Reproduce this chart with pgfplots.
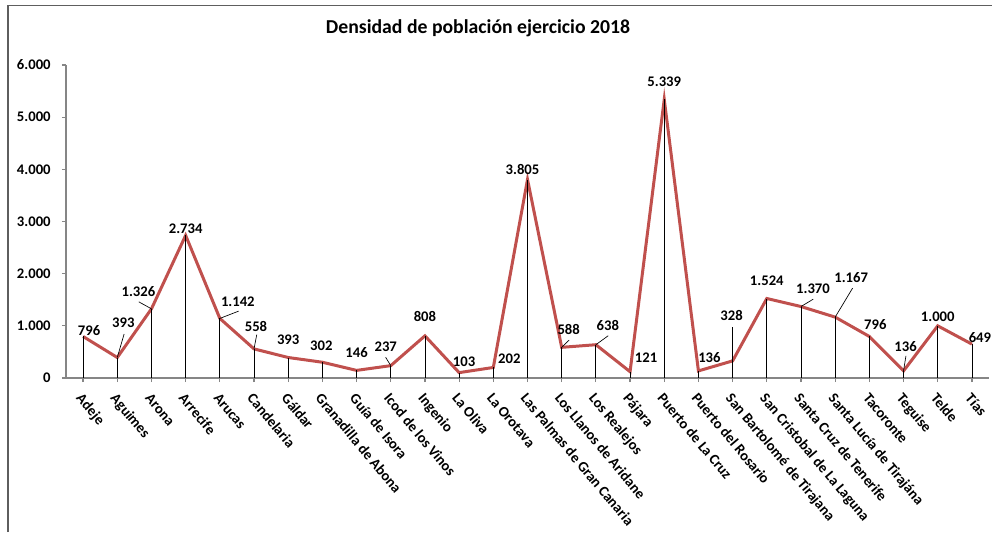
\documentclass[border=0pt]{standalone}
\usepackage{pgfplots}
\pgfplotsset{compat=1.18}
\usepackage{pgfplotstable}
\usepackage{fontspec}
\setmainfont{Carlito}
\definecolor{linered}{HTML}{C0504D}
\definecolor{axgray}{HTML}{868686}

\pgfplotstableread{
x y dx dy
0 796 4.5 4.1
1 393 4.5 25.9
2 1326 -9.75 12.75
3 2734 0 5.25
4 1142 13.5 12.75
5 558 1.5 16.5
6 393 0 13.5
7 302 -0.75 12.75
8 146 0 13.3
9 237 -3.75 14.25
10 808 0 14.25
11 103 3.75 8.25
12 202 12 6.75
13 3805 -3.75 7.5
14 588 5.25 13.5
15 638 9 14.25
16 121 12 10.5
17 5339 0 13.5
18 136 8.25 9.75
19 328 -0.75 33.75
20 1524 0 13.1
21 1370 9 13.1
22 1167 12 30
23 796 4.5 9
24 136 1.5 18
25 1000 0 6.75
26 649 6 5.25
}\datatable

\pgfplotstableread{
x y u v
1 393 0.20 450
2 1326 -0.37 134
4 1142 0.55 140
5 558 0.08 274
9 237 -0.15 160
14 588 0.22 140
15 638 0.36 172
19 328 0 658
21 1370 0.36 142
22 1167 0.51 556
24 136 0.07 288
}\leaderstable

\begin{document}
\begin{tikzpicture}
\path[use as bounding box] (0,0) rectangle (744pt,399pt);
\draw[axgray!70!black, line width=1.2pt] (6pt,0) -- (6pt,395pt) -- (744pt,395pt);
\node[font=\bfseries\fontsize{14.8}{17}\selectfont] at (358.5pt,378pt) {Densidad de población ejercicio 2018};
\begin{axis}[
  at={(49.5pt,115.5pt)}, anchor=south west, scale only axis,
  width=692.25pt, height=234.75pt,
  xmin=-0.5, xmax=26.5, ymin=0, ymax=6000,
  axis x line=bottom, axis y line=left,
  axis line style={-, axgray, line width=1.1pt},
  xtick={0,...,26},
  xticklabels={Adeje,Aguimes,Arona,Arrecife,Arucas,Candelaria,Gáldar,Granadilla de Abona,Guía de Isora,Icod de los Vinos,Ingenio,La Oliva,La Orotava,Las Palmas de Gran Canaria,Los Llanos de Aridane,Los Realejos,Pájara,Puerto de La Cruz,Puerto del Rosario,San Bartolomé de Tirajana,San Cristobal de La Laguna,Santa Cruz de Tenerife,Santa Lucía de Tirajána,Tacoronte,Teguise,Telde,Tías},
  ytick={0,1000,...,6000},
  scaled y ticks=false,
  /pgf/number format/1000 sep={.},
  /pgf/number format/assume math mode=true,
  tick label style={font=\bfseries\fontsize{11}{13}\selectfont, text=black},
  xticklabel style={yshift=-6pt, xshift=0.5pt, rotate=-50, anchor=north west, inner sep=1pt},
  yticklabel style={xshift=-5pt},
  tick style={axgray, line width=0.9pt},
  tick align=outside, major tick length=3pt,
  clip=false,
]
\addplot[linered, line width=2.25pt, mark=none] table[x=x,y=y]{\datatable};
\addplot[ycomb, black, line width=0.6pt, mark=none] table[x=x,y=y]{\datatable};
\addplot[quiver={u=\thisrow{u},v=\thisrow{v}}, black, line width=0.5pt, mark=none, -] table[x=x,y=y]{\leaderstable};
\addplot[draw=none, mark=none, nodes near coords,
  visualization depends on={\thisrow{dx}\as\dx},
  visualization depends on={\thisrow{dy}\as\dy},
  nodes near coords style={font=\bfseries\fontsize{11}{13}\selectfont, text=black, anchor=center, xshift=\dx, yshift=\dy}]
  table[x=x,y=y]{\datatable};
\end{axis}
\end{tikzpicture}
\end{document}
